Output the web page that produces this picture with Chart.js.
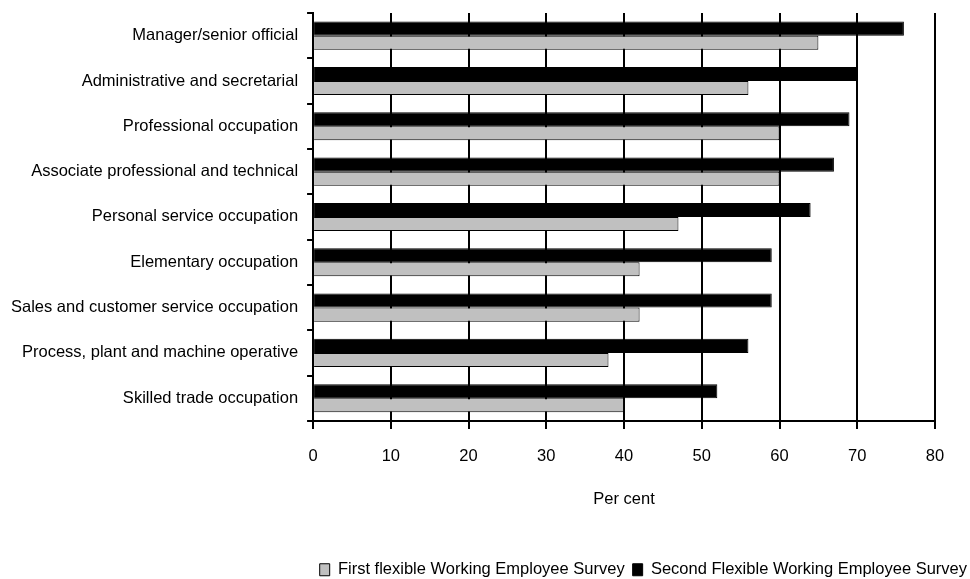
<!DOCTYPE html>
<html>
<head>
<meta charset="utf-8">
<script src="https://cdn.jsdelivr.net/npm/chart.js@4/dist/chart.umd.min.js"></script>
<style>
  html, body { margin: 0; padding: 0; background: #fff; }
  #wrap { width: 970px; height: 579px; }
</style>
</head>
<body>
<div id="wrap"><canvas id="chart"></canvas></div>
<script>
const occupations = [
  'Manager/senior official',
  'Administrative and secretarial',
  'Professional occupation',
  'Associate professional and technical',
  'Personal service occupation',
  'Elementary occupation',
  'Sales and customer service occupation',
  'Process, plant and machine operative',
  'Skilled trade occupation'
];
const firstSurvey = [65, 56, 60, 60, 47, 42, 42, 38, 40];
const secondSurvey = [76, 70, 69, 67, 64, 59, 59, 56, 52];
const xTicks = [0, 10, 20, 30, 40, 50, 60, 70, 80];

Chart.defaults.font.family = "'Liberation Sans', Arimo, sans-serif";
Chart.defaults.font.size = 16.5;
Chart.defaults.color = '#000';

// legend sits lower and further right than chart.js would put it
const shiftLegend = {
  id: 'shiftLegend',
  afterLayout(chart) {
    const lg = chart.legend;
    if (!lg) return;
    lg.left += 40; lg.right += 40;
    lg.top += 13.5; lg.bottom += 13.5;
  }
};

const ctx = document.querySelector('#chart').getContext('2d');

new Chart(ctx, {
  type: 'bar',
  data: {
    labels: occupations,
    datasets: [
      {
        label: 'Second Flexible Working Employee Survey',
        data: secondSurvey,
        backgroundColor: '#000',
        borderColor: '#000',
        borderWidth: 1
      },
      {
        label: 'First flexible Working Employee Survey',
        data: firstSurvey,
        backgroundColor: '#c0c0c0',
        borderColor: '#000',
        borderWidth: 1
      }
    ]
  },
  options: {
    indexAxis: 'y',
    responsive: true,
    maintainAspectRatio: false,
    animation: false,
    categoryPercentage: 0.62,
    barPercentage: 1,
    layout: { padding: { top: 13, right: 35, left: 2, bottom: 4.5 } },
    scales: {
      x: {
        min: 0,
        max: 80,
        afterBuildTicks: axis => { axis.ticks = xTicks.map(v => ({ value: v })); },
        grid: { color: '#000', lineWidth: 2, tickLength: 8 },
        border: { color: '#000', width: 2 },
        ticks: { padding: 18 },
        title: { display: true, text: 'Per cent', padding: { top: 4.5, bottom: 31 } }
      },
      y: {
        afterFit: axis => { axis.paddingTop = 0; axis.paddingBottom = 0; },
        grid: { display: true, offset: true, drawOnChartArea: false, color: '#000', lineWidth: 2, tickLength: 6 },
        border: { color: '#000', width: 2 },
        ticks: { padding: 9 }
      }
    },
    plugins: {
      legend: {
        position: 'bottom',
        align: 'end',
        reverse: true,
        labels: { boxWidth: 10, boxHeight: 12, padding: 8 }
      },
      tooltip: { enabled: false }
    }
  },
  plugins: [shiftLegend]
});
</script>
</body>
</html>
